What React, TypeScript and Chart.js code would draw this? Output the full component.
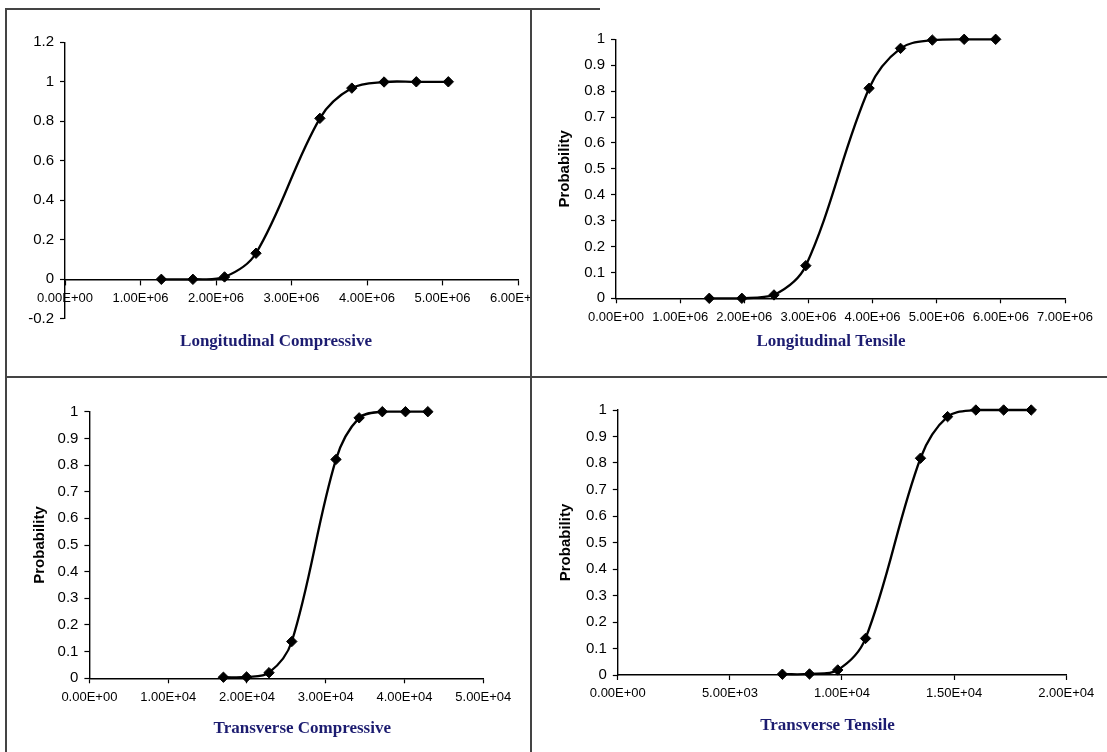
import React, { useEffect, useRef } from "react";
import { Chart, registerables } from "chart.js";

Chart.register(...registerables);
Chart.defaults.font.family = '"Liberation Sans", Arial, sans-serif';

// ---------- data ----------
const LC_X = [1.276e6, 1.694e6, 2.113e6, 2.53e6, 3.376e6, 3.799e6, 4.226e6, 4.653e6, 5.077e6];
const LC_Y = [0.0, 0.0, 0.012, 0.132, 0.815, 0.968, 0.999, 1.0, 1.0];

const LT_X = [1.454e6, 1.962e6, 2.463e6, 2.959e6, 3.946e6, 4.436e6, 4.932e6, 5.428e6, 5.919e6];
const LT_Y = [0.0, 0.0, 0.013, 0.126, 0.811, 0.965, 0.997, 1.0, 1.0];

const TC_X = [1.701e4, 1.995e4, 2.28e4, 2.569e4, 3.13e4, 3.424e4, 3.718e4, 4.012e4, 4.296e4];
const TC_Y = [0.004, 0.005, 0.021, 0.138, 0.821, 0.977, 1.0, 1.0, 1.0];

const TT_X = [7.34e3, 8.55e3, 9.81e3, 1.105e4, 1.35e4, 1.471e4, 1.597e4, 1.721e4, 1.844e4];
const TT_Y = [0.003, 0.004, 0.019, 0.138, 0.818, 0.975, 1.0, 1.0, 1.0];

const LC_X_TICKS = [0, 1e6, 2e6, 3e6, 4e6, 5e6, 6e6];
const LC_X_LABELS = ["0.00E+00", "1.00E+06", "2.00E+06", "3.00E+06", "4.00E+06", "5.00E+06", "6.00E+06"];
const LT_X_TICKS = [0, 1e6, 2e6, 3e6, 4e6, 5e6, 6e6, 7e6];
const LT_X_LABELS = ["0.00E+00", "1.00E+06", "2.00E+06", "3.00E+06", "4.00E+06", "5.00E+06", "6.00E+06", "7.00E+06"];
const TC_X_TICKS = [0, 1e4, 2e4, 3e4, 4e4, 5e4];
const TC_X_LABELS = ["0.00E+00", "1.00E+04", "2.00E+04", "3.00E+04", "4.00E+04", "5.00E+04"];
const TT_X_TICKS = [0, 5e3, 1e4, 1.5e4, 2e4];
const TT_X_LABELS = ["0.00E+00", "5.00E+03", "1.00E+04", "1.50E+04", "2.00E+04"];

const LC_Y_TICKS = [-0.2, 0, 0.2, 0.4, 0.6, 0.8, 1.0, 1.2];
const LC_Y_LABELS = ["-0.2", "0", "0.2", "0.4", "0.6", "0.8", "1", "1.2"];
const P_Y_TICKS = [0, 0.1, 0.2, 0.3, 0.4, 0.5, 0.6, 0.7, 0.8, 0.9, 1.0];
const P_Y_LABELS = ["0", "0.1", "0.2", "0.3", "0.4", "0.5", "0.6", "0.7", "0.8", "0.9", "1"];

const TITLES = ["Longitudinal Compressive", "Longitudinal Tensile", "Transverse Compressive", "Transverse Tensile"];
const Y_TITLE = "Probability";

// ---------- layout ----------
type PanelCfg = {
  xs: number[];
  ys: number[];
  xTicks: number[];
  xLabels: string[];
  yTicks: number[];
  yLabels: string[];
  title: string;
  showYTitle: boolean;
  xAtZero: boolean;
  left: number;
  top: number;
  w: number;
  h: number;
  yw: number;
  padTop: number;
  padRight: number;
  padBottom: number;
  xh: number;
  yTitlePad: number;
  titleX: number;
  titleY: number;
};

const PANELS: PanelCfg[] = [
  {
    xs: LC_X, ys: LC_Y, xTicks: LC_X_TICKS, xLabels: LC_X_LABELS, yTicks: LC_Y_TICKS, yLabels: LC_Y_LABELS,
    title: TITLES[0], showYTitle: false, xAtZero: true,
    left: 0, top: 0, w: 600, h: 377, yw: 65, padTop: 42.3, padRight: 82, padBottom: 58.2, xh: 0,
    yTitlePad: 0, titleX: 276, titleY: 341.7,
  },
  {
    xs: LT_X, ys: LT_Y, xTicks: LT_X_TICKS, xLabels: LT_X_LABELS, yTicks: P_Y_TICKS, yLabels: P_Y_LABELS,
    title: TITLES[1], showYTitle: true, xAtZero: false,
    left: 545, top: 10, w: 562, h: 367, yw: 71, padTop: 29.3, padRight: 42, padBottom: 0, xh: 78.7,
    yTitlePad: 10.6, titleX: 286, titleY: 331.7,
  },
  {
    xs: TC_X, ys: TC_Y, xTicks: TC_X_TICKS, xLabels: TC_X_LABELS, yTicks: P_Y_TICKS, yLabels: P_Y_LABELS,
    title: TITLES[2], showYTitle: true, xAtZero: false,
    left: 10, top: 380, w: 521, h: 372, yw: 79.4, padTop: 31.7, padRight: 47.7, padBottom: 0, xh: 73.7,
    yTitlePad: 20.6, titleX: 292.3, titleY: 348.3,
  },
  {
    xs: TT_X, ys: TT_Y, xTicks: TT_X_TICKS, xLabels: TT_X_LABELS, yTicks: P_Y_TICKS, yLabels: P_Y_LABELS,
    title: TITLES[3], showYTitle: true, xAtZero: false,
    left: 545, top: 380, w: 562, h: 372, yw: 72.8, padTop: 30, padRight: 40.8, padBottom: 0, xh: 77,
    yTitlePad: 12, titleX: 282.5, titleY: 346,
  },
];

function Panel({ cfg }: { cfg: PanelCfg }) {
  const ref = useRef<HTMLCanvasElement>(null);
  useEffect(() => {
    if (!ref.current) return;
    const titlePlugin = {
      id: "panelTitle",
      afterDraw(chart: any) {
        const ctx = chart.ctx;
        ctx.save();
        ctx.font = 'bold 17px "Liberation Serif", "Times New Roman", serif';
        ctx.fillStyle = "#1c1c70";
        ctx.textAlign = "center";
        ctx.textBaseline = "middle";
        ctx.fillText(cfg.title, cfg.titleX, cfg.titleY);
        ctx.restore();
      },
    };
    const gridOpts = {
      display: true,
      drawOnChartArea: false,
      drawTicks: true,
      tickLength: 5,
      tickColor: "#000",
      tickWidth: 1.2,
      color: "#000",
    };
    const chart = new Chart(ref.current, {
      type: "line",
      data: {
        datasets: [
          {
            data: cfg.xs.map((x, i) => ({ x, y: cfg.ys[i] })),
            borderColor: "#000",
            backgroundColor: "#000",
            borderWidth: 2.3,
            tension: 0.35,
            pointStyle: "rectRot",
            pointRadius: 5.2,
            pointBackgroundColor: "#000",
            pointBorderColor: "#000",
            pointBorderWidth: 1,
            clip: false as any,
          },
        ],
      },
      options: {
        animation: false,
        responsive: false,
        devicePixelRatio: 1,
        events: [],
        layout: {
          padding: { left: 0, top: cfg.padTop, right: cfg.padRight, bottom: cfg.padBottom },
        },
        plugins: { legend: { display: false }, tooltip: { enabled: false }, title: { display: false } },
        scales: {
          x: {
            type: "linear",
            position: cfg.xAtZero ? ({ y: 0 } as any) : "bottom",
            min: cfg.xTicks[0],
            max: cfg.xTicks[cfg.xTicks.length - 1],
            afterBuildTicks: (scale: any) => {
              scale.ticks = cfg.xTicks.map((v) => ({ value: v }));
            },
            afterFit: (scale: any) => {
              scale.height = cfg.xh;
            },
            ticks: {
              autoSkip: false,
              maxRotation: 0,
              minRotation: 0,
              padding: 6,
              color: "#000",
              font: { size: 13 },
              callback: (_v: any, i: number) => cfg.xLabels[i],
            },
            grid: gridOpts,
            border: { display: true, color: "#000", width: 1.4 },
          },
          y: {
            type: "linear",
            position: "left",
            min: cfg.yTicks[0],
            max: cfg.yTicks[cfg.yTicks.length - 1],
            afterBuildTicks: (scale: any) => {
              scale.ticks = cfg.yTicks.map((v) => ({ value: v }));
            },
            afterFit: (scale: any) => {
              scale.width = cfg.yw;
            },
            ticks: {
              autoSkip: false,
              padding: 6,
              color: "#000",
              font: { size: 15 },
              callback: (_v: any, i: number) => cfg.yLabels[i],
            },
            title: {
              display: cfg.showYTitle,
              text: Y_TITLE,
              color: "#000",
              font: { size: 15, weight: "bold" },
              padding: { top: cfg.yTitlePad, bottom: 0 },
            },
            grid: gridOpts,
            border: { display: true, color: "#000", width: 1.4 },
          },
        },
      },
      plugins: [titlePlugin],
    } as any);
    return () => chart.destroy();
  }, [cfg]);
  return (
    <canvas
      ref={ref}
      width={cfg.w}
      height={cfg.h}
      style={{ position: "absolute", left: cfg.left, top: cfg.top, width: cfg.w, height: cfg.h }}
    />
  );
}

const lineStyle = (l: number, t: number, w: number, h: number, c = "#444"): React.CSSProperties => ({
  position: "absolute",
  left: l,
  top: t,
  width: w,
  height: h,
  background: c,
});

export default function App() {
  return (
    <div
      style={{
        position: "absolute",
        left: 0,
        top: 0,
        width: 1107,
        height: 752,
        background: "#fff",
        overflow: "hidden",
      }}
    >
      <div style={{ position: "absolute", left: 0, top: 0, width: 530, height: 377, overflow: "hidden" }}>
        <Panel cfg={PANELS[0]} />
      </div>
      <Panel cfg={PANELS[1]} />
      <Panel cfg={PANELS[2]} />
      <Panel cfg={PANELS[3]} />
      <div style={lineStyle(5, 8, 595, 2)} />
      <div style={lineStyle(5, 8, 2, 744)} />
      <div style={lineStyle(530, 8, 2, 744)} />
      <div style={lineStyle(5, 376, 1102, 2)} />
    </div>
  );
}
